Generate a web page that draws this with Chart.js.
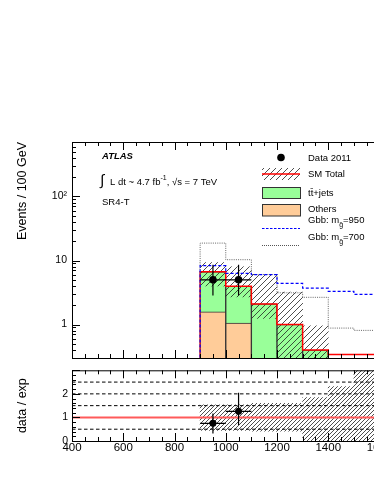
<!DOCTYPE html>
<html>
<head>
<meta charset="utf-8">
<script src="https://cdn.jsdelivr.net/npm/chart.js@4.4.0/dist/chart.umd.min.js"></script>
<style>
  html, body { margin: 0; padding: 0; background: #fff; overflow: hidden; }
  #wrap { position: relative; width: 374px; height: 484px; overflow: hidden; }
  canvas { position: absolute; left: 0; }
  #main { top: 0; }
  #ratio { top: 360px; }
</style>
</head>
<body>
<div id="wrap">
  <canvas id="main" width="500" height="370"></canvas>
  <canvas id="ratio" width="500" height="124"></canvas>
</div>
<script>
// histogram bins (GeV), 100 GeV wide
const binEdges = [900, 1000, 1100, 1200, 1300, 1400, 1500, 1600];
const binCenters = [950, 1050, 1150, 1250, 1350, 1450, 1550];

// backgrounds (stacked: others at the bottom, ttbar on top)
const ttbarJets = [5.08, 2.91, 2.1, 1.0, 0.4];
const others = [1.58, 1.05, 0, 0, 0];
const smBandLow = [4.0, 2.7, 1.25, 0.01, 0.01];
const smBandHigh = [9.3, 8.0, 6.1, 3.2, 0.95];

// signals
const gbb950 = [8.3, 6.3, 6.0, 4.4, 3.7, 3.3, 2.95];
const gbb700 = [18.7, 10.3, 6.05, 3.13, 2.66, 0.88, 0.81];

// data 2011
const dataX = [950, 1050];
const dataY = [5, 5];
const dataLow = [2.84, 2.84];
const dataHigh = [8.6, 8.6];

// ratio panel
const ratioY = [0.75, 1.26];
const ratioLow = [0.32, 0.68];
const ratioHigh = [1.17, 2.05];
const ratioBandLow = [0.45, 0.45, 0.42, 0.42, 0, 0, 0];
const ratioBandHigh = [1.53, 1.53, 1.6, 1.6, 1.84, 2.31, 3.1];
const ratioRefLines = [0.5, 1.5, 2, 2.5];
const ratioUnity = 1;

// axes
const xMin = 400, xMax = 2000;
const xTicks = [400, 600, 800, 1000, 1200, 1400, 1600, 1800, 2000];
const mainYMin = 0.34, mainYMax = 710;
const mainYTicks = [1, 10, 100];
const mainYLabels = ['1', '10', '10²'];
const ratioYTicks = [0, 1, 2];

const FONT = '"Liberation Sans", Arial, Helvetica, sans-serif';
Chart.defaults.font.family = FONT;
Chart.defaults.color = '#000';

const GREEN = 'rgb(153,255,153)';
const ORANGE = 'rgb(255,204,153)';

function hatch(step) {
  const c = document.createElement('canvas');
  c.width = step; c.height = step;
  const g = c.getContext('2d');
  g.strokeStyle = '#222';
  g.lineWidth = 0.8;
  g.beginPath();
  g.moveTo(0, step); g.lineTo(step, 0);
  g.moveTo(-1, 1); g.lineTo(1, -1);
  g.moveTo(step - 1, step + 1); g.lineTo(step + 1, step - 1);
  g.stroke();
  return g.createPattern(c, 'repeat');
}

// histogram outline as a stepped line through the bin edges
function steps(vals, floor) {
  const pts = [{ x: binEdges[0], y: 0.01 }];
  vals.forEach((v, i) => pts.push({ x: binEdges[i], y: v }));
  const last = vals.length;
  pts.push({ x: binEdges[last], y: vals[last - 1] });
  if (floor !== undefined) {
    pts.push({ x: binEdges[last], y: floor });
    pts.push({ x: xMax, y: floor });
  }
  return pts;
}

const smTotal = ttbarJets.map((v, i) => v + others[i]);
const halfBin = (binEdges[1] - binEdges[0]) / 2;

function errBars(xs, ys, lo, hi) {
  return {
    id: 'errBars',
    afterDatasetsDraw(chart) {
      const { ctx, scales: { x, y } } = chart;
      ctx.save();
      ctx.strokeStyle = '#000';
      ctx.lineWidth = 1.2;
      ctx.beginPath();
      xs.forEach((xv, i) => {
        const px = x.getPixelForValue(xv);
        const py = y.getPixelForValue(ys[i]);
        ctx.moveTo(px, y.getPixelForValue(lo[i]));
        ctx.lineTo(px, y.getPixelForValue(hi[i]));
        ctx.moveTo(x.getPixelForValue(xv - halfBin), py);
        ctx.lineTo(x.getPixelForValue(xv + halfBin), py);
      });
      ctx.stroke();
      ctx.restore();
    }
  };
}

function frame(yTickList) {
  return {
    id: 'frame',
    afterDraw(chart) {
      const { ctx, chartArea: a, scales: { x, y } } = chart;
      ctx.save();
      ctx.strokeStyle = '#000';
      ctx.lineWidth = 1;
      ctx.strokeRect(a.left + 0.5, a.top + 0.5, a.right - a.left, a.bottom - a.top);
      ctx.beginPath();
      for (let v = xMin; v <= xMax; v += 50) {
        const px = Math.round(x.getPixelForValue(v)) + 0.5;
        const len = v % 200 === 0 ? 8 : 4;
        ctx.moveTo(px, a.bottom); ctx.lineTo(px, a.bottom - len);
        ctx.moveTo(px, a.top); ctx.lineTo(px, a.top + len);
      }
      yTickList.forEach(([v, len]) => {
        const py = Math.round(y.getPixelForValue(v)) + 0.5;
        ctx.moveTo(a.left, py); ctx.lineTo(a.left + len, py);
      });
      ctx.stroke();
      ctx.restore();
    }
  };
}

const mainYTickMarks = [];
[-1, 0, 1, 2].forEach(d => {
  for (let m = 1; m <= 9; m++) {
    const v = m * Math.pow(10, d);
    if (v >= mainYMin && v <= mainYMax) mainYTickMarks.push([v, m === 1 ? 8 : 4]);
  }
});
const ratioYTickMarks = [];
for (let k = 0; k <= 15; k++) {
  ratioYTickMarks.push([k * 0.2, k % 5 === 0 ? 8 : 4]);
}

const mainPattern = hatch(6);
const ratioPattern = hatch(4);

const annotations = {
  id: 'annotations',
  afterDraw(chart) {
    const { ctx } = chart;
    ctx.save();
    ctx.fillStyle = '#000';
    ctx.textBaseline = 'middle';
    ctx.textAlign = 'left';
    ctx.font = 'bold italic 9.5px ' + FONT;
    ctx.fillText('ATLAS', 102, 156);
    ctx.font = '15px ' + FONT;
    ctx.fillText('∫', 100, 181);
    ctx.font = '9.5px ' + FONT;
    ctx.fillText('L dt ~ 4.7 fb', 110, 182);
    let w = ctx.measureText('L dt ~ 4.7 fb').width;
    ctx.font = '7px ' + FONT;
    ctx.fillText('-1', 110 + w, 178);
    const w2 = ctx.measureText('-1').width;
    ctx.font = '9.5px ' + FONT;
    ctx.fillText(', √s = 7 TeV', 110 + w + w2, 182);
    ctx.fillText('SR4-T', 102, 202);

    // legend
    const bx = 262, bw = 38, tx = 308;
    ctx.beginPath();
    ctx.arc(281, 157.5, 3.8, 0, Math.PI * 2);
    ctx.fill();
    ctx.fillText('Data 2011', tx, 158);

    ctx.fillStyle = mainPattern;
    ctx.fillRect(bx, 168, bw, 12);
    ctx.strokeStyle = '#ff0000';
    ctx.lineWidth = 1.5;
    ctx.beginPath(); ctx.moveTo(bx, 174); ctx.lineTo(bx + bw, 174); ctx.stroke();
    ctx.fillStyle = '#000';
    ctx.fillText('SM Total', tx, 174);

    ctx.strokeStyle = '#333';
    ctx.lineWidth = 1;
    ctx.fillStyle = GREEN;
    ctx.fillRect(bx, 187.5, bw, 11);
    ctx.strokeRect(bx + 0.5, 187.5, bw, 11);
    ctx.fillStyle = '#000';
    ctx.fillText('tt\u0304+jets', tx, 193);

    ctx.fillStyle = ORANGE;
    ctx.fillRect(bx, 204.5, bw, 11.5);
    ctx.strokeRect(bx + 0.5, 204.5, bw, 11.5);
    ctx.fillStyle = '#000';
    ctx.fillText('Others', tx, 209.5);

    const gbbLabel = (mass, yy) => {
      ctx.font = '9.5px ' + FONT;
      ctx.fillText('Gbb: m', tx, yy);
      const a = ctx.measureText('Gbb: m').width;
      ctx.font = '7px ' + FONT;
      ctx.fillText('g\u0303', tx + a, yy + 5);
      const b = ctx.measureText('g').width;
      ctx.font = '9.5px ' + FONT;
      ctx.fillText('=' + mass, tx + a + b, yy);
    };
    gbbLabel(950, 220.5);
    ctx.strokeStyle = '#0000ff';
    ctx.lineWidth = 1;
    ctx.setLineDash([2.5, 1.5]);
    ctx.beginPath(); ctx.moveTo(bx, 228.5); ctx.lineTo(bx + bw, 228.5); ctx.stroke();
    gbbLabel(700, 237);
    ctx.strokeStyle = '#555';
    ctx.setLineDash([1, 1]);
    ctx.beginPath(); ctx.moveTo(bx, 245.5); ctx.lineTo(bx + bw, 245.5); ctx.stroke();
    ctx.restore();
  }
};

const fixedTicks = list => s => { s.ticks = list.map(v => ({ value: v })); };
const fixWidth = s => { s.width = 72; };

new Chart(document.getElementById('main'), {
  type: 'bar',
  data: {
    datasets: [
      {
        type: 'line', label: 'Data 2011', order: 0,
        data: dataX.map((x, i) => ({ x, y: dataY[i] })),
        showLine: false, pointRadius: 3.8, pointBackgroundColor: '#000', pointBorderWidth: 0
      },
      {
        type: 'line', label: 'Gbb: m=950', order: 1,
        data: steps(gbb950), stepped: 'before',
        borderColor: '#0000ff', borderWidth: 1.2, borderDash: [3, 2], pointRadius: 0, fill: false
      },
      {
        type: 'line', label: 'Gbb: m=700', order: 1,
        data: steps(gbb700), stepped: 'before',
        borderColor: '#666', borderWidth: 1, borderDash: [1, 1.2], pointRadius: 0, fill: false
      },
      {
        type: 'line', label: 'SM Total', order: 2,
        data: steps(smTotal, mainYMin), stepped: 'before',
        borderColor: '#ff0000', borderWidth: 1.5, pointRadius: 0, fill: false
      },
      {
        label: 'SM uncertainty', order: 3, grouped: false,
        data: smBandLow.map((lo, i) => ({ x: binCenters[i], y: [lo, smBandHigh[i]] })),
        backgroundColor: mainPattern, borderWidth: 0,
        categoryPercentage: 1, barPercentage: 1
      },
      {
        label: 'Others', order: 4, grouped: false,
        data: others.map((v, i) => ({ x: binCenters[i], y: v > 0 ? v : null })),
        backgroundColor: ORANGE, borderColor: '#333', borderWidth: 1,
        categoryPercentage: 1, barPercentage: 1
      },
      {
        label: 'tt+jets', order: 5, grouped: false,
        data: smTotal.map((v, i) => ({ x: binCenters[i], y: v })),
        backgroundColor: GREEN, borderColor: '#333', borderWidth: 1,
        categoryPercentage: 1, barPercentage: 1
      }
    ]
  },
  options: {
    responsive: false,
    animation: false,
    events: [],
    layout: { padding: { top: 142, right: 18, bottom: 12, left: 0 } },
    plugins: { legend: { display: false }, tooltip: { enabled: false } },
    scales: {
      x: {
        type: 'linear', min: xMin, max: xMax, offset: false, display: false,
        afterBuildTicks: fixedTicks(xTicks)
      },
      y: {
        type: 'logarithmic', min: mainYMin, max: mainYMax,
        afterBuildTicks: fixedTicks(mainYTicks),
        afterFit: fixWidth,
        grid: { display: false, drawTicks: false },
        border: { display: false },
        ticks: {
          padding: 5,
          font: { size: 10.5 },
          callback: v => mainYLabels[mainYTicks.indexOf(v)]
        },
        title: {
          display: true, text: 'Events / 100 GeV', align: 'end',
          font: { size: 12.5 }, padding: { top: 15.5, bottom: 0 }
        }
      }
    }
  },
  plugins: [errBars(dataX, dataY, dataLow, dataHigh), frame(mainYTickMarks), annotations]
});

new Chart(document.getElementById('ratio'), {
  type: 'bar',
  data: {
    datasets: [
      {
        type: 'line', label: 'data / exp', order: 0,
        data: dataX.map((x, i) => ({ x, y: ratioY[i] })),
        showLine: false, pointRadius: 3.5, pointBackgroundColor: '#000', pointBorderWidth: 0
      },
      {
        type: 'line', label: 'unity', order: 1,
        data: [{ x: xMin, y: ratioUnity }, { x: xMax, y: ratioUnity }],
        borderColor: 'rgb(255,90,90)', borderWidth: 2, pointRadius: 0, fill: false
      },
      ...ratioRefLines.map(v => ({
        type: 'line', label: 'ref ' + v, order: 2,
        data: [{ x: xMin, y: v }, { x: xMax, y: v }],
        borderColor: '#000', borderWidth: 1, borderDash: [3.5, 2.5], pointRadius: 0, fill: false
      })),
      {
        label: 'SM uncertainty', order: 3, grouped: false,
        data: ratioBandLow.map((lo, i) => ({ x: binCenters[i], y: [lo, ratioBandHigh[i]] })),
        backgroundColor: ratioPattern, borderWidth: 0,
        categoryPercentage: 1, barPercentage: 1
      }
    ]
  },
  options: {
    responsive: false,
    animation: false,
    events: [],
    layout: { padding: { top: 6, right: 18, bottom: 23, left: 0 } },
    plugins: { legend: { display: false }, tooltip: { enabled: false } },
    scales: {
      x: {
        type: 'linear', min: xMin, max: xMax, offset: false,
        afterBuildTicks: fixedTicks(xTicks),
        afterFit: s => { s.height = 20; },
        grid: { display: false, drawTicks: false },
        border: { display: false },
        ticks: { padding: 0, maxRotation: 0, autoSkip: false, font: { size: 11.5 }, callback: v => String(v) }
      },
      y: {
        type: 'linear', min: 0, max: 3,
        afterBuildTicks: fixedTicks(ratioYTicks),
        afterFit: fixWidth,
        grid: { display: false, drawTicks: false },
        border: { display: false },
        ticks: { padding: 4, font: { size: 10.5 }, callback: v => String(v) },
        title: {
          display: true, text: 'data / exp', align: 'center',
          font: { size: 12.5 }, padding: { top: 15.5, bottom: 0 }
        }
      }
    }
  },
  plugins: [errBars(dataX, ratioY, ratioLow, ratioHigh), frame(ratioYTickMarks)]
});
</script>
</body>
</html>
